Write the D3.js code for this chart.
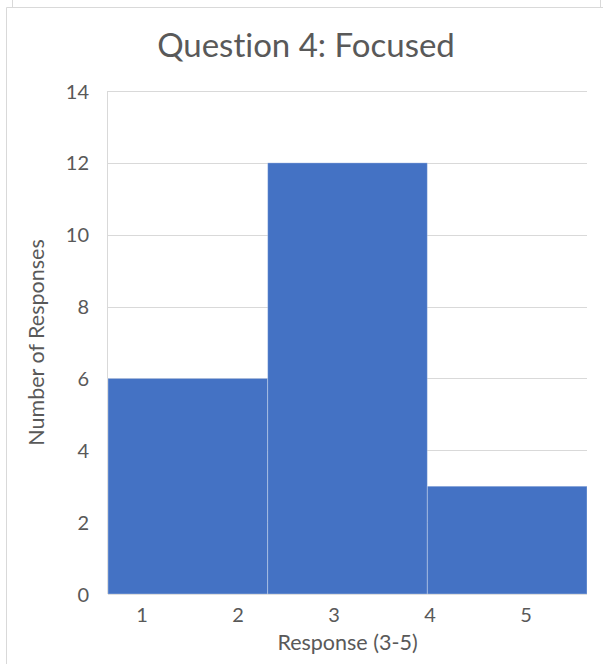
<!DOCTYPE html>
<html>
<head>
<meta charset="utf-8">
<script src="https://cdn.jsdelivr.net/npm/d3@7"></script>
<style>
  html, body { margin: 0; padding: 0; background: #fff; }
  svg { display: block; }
  text {
    font-family: Lato, "Open Sans", sans-serif;
    fill: #595959;
    font-variant-ligatures: none;
    font-feature-settings: "liga" 0, "dlig" 0, "clig" 0;
  }
</style>
</head>
<body>
<svg id="chart" width="603" height="664"></svg>
<script>
// Histogram bins (left to right) and their counts
const bins = ["bin 1", "bin 2", "bin 3"];
const counts = [6, 12, 3];
// Response tick labels along the horizontal axis
const responseTicks = [1, 2, 3, 4, 5];
// Count ticks along the vertical axis
const countTicks = [0, 2, 4, 6, 8, 10, 12, 14];

const titleText = "Question 4: Focused";
const xTitle = "Response (3-5)";
const yTitle = "Number of Responses";

const W = 603, H = 664;
const plot = { left: 108, right: 587, top: 91, bottom: 594 };
const gridColor = "#d9d9d9";
const barColor = "#4472c4";
const textColor = "#595959";

const svg = d3.select("#chart");

// Outer frames
svg.append("path")
  .attr("d", "M12.5,0V7 M600.5,0V7")
  .attr("stroke", gridColor).attr("fill", "none");
svg.append("path")
  .attr("d", `M6.5,${H}V7.5H${W}`)
  .attr("stroke", gridColor).attr("fill", "none");

// Scales
const y = d3.scaleLinear().domain([0, 14]).range([plot.bottom, plot.top]);
const xBand = d3.scaleBand().domain(bins).range([plot.left, plot.right]).padding(0);
const xTick = d3.scaleLinear().domain([0.65, 5.64]).range([plot.left, plot.right]);

// Gridlines
svg.append("g")
  .selectAll("line")
  .data(countTicks)
  .join("line")
  .attr("x1", plot.left).attr("x2", plot.right)
  .attr("y1", d => Math.round(y(d)) + 0.5).attr("y2", d => Math.round(y(d)) + 0.5)
  .attr("stroke", gridColor).attr("stroke-width", 1);

// Left axis line of the plot area
svg.append("line")
  .attr("x1", plot.left - 0.5).attr("x2", plot.left - 0.5)
  .attr("y1", plot.top).attr("y2", plot.bottom)
  .attr("stroke", gridColor);

// Bars
svg.append("g")
  .selectAll("rect")
  .data(bins)
  .join("rect")
  .attr("x", d => xBand(d))
  .attr("width", xBand.bandwidth())
  .attr("y", (d, i) => y(counts[i]))
  .attr("height", (d, i) => y(0) - y(counts[i]))
  .attr("fill", barColor)
  .attr("stroke", "#ffffff")
  .attr("stroke-opacity", 0.3)
  .attr("stroke-width", 1);

// Y axis labels
const yAxis = d3.axisLeft(y).tickValues(countTicks).tickSize(0).tickPadding(0);
const yg = svg.append("g")
  .attr("transform", `translate(${plot.left - 19},0)`)
  .call(yAxis)
  .attr("font-size", 20)
  .attr("font-family", null);
yg.select(".domain").remove();
yg.selectAll("text").attr("fill", textColor).attr("dy", "0.35em");

// X axis labels
const xAxis = d3.axisBottom(xTick).tickValues(responseTicks)
  .tickFormat(d3.format("d")).tickSize(0).tickPadding(0);
const xg = svg.append("g")
  .attr("transform", `translate(0,${plot.bottom + 14})`)
  .call(xAxis)
  .attr("font-size", 20)
  .attr("font-family", null);
xg.select(".domain").remove();
xg.selectAll("text").attr("fill", textColor);

// Titles
svg.append("text")
  .attr("x", 306).attr("y", 57)
  .attr("text-anchor", "middle")
  .attr("font-size", 33)
  .text(titleText);

svg.append("text")
  .attr("x", (plot.left + plot.right) / 2).attr("y", 650)
  .attr("text-anchor", "middle")
  .attr("font-size", 21.5)
  .text(xTitle);

svg.append("text")
  .attr("transform", `translate(44,${(plot.top + plot.bottom) / 2}) rotate(-90)`)
  .attr("text-anchor", "middle")
  .attr("font-size", 21.5)
  .text(yTitle);
</script>
</body>
</html>
